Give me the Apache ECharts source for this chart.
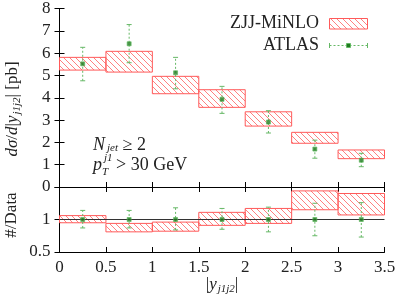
<!DOCTYPE html>
<html><head><meta charset="utf-8">
<script src="https://cdn.jsdelivr.net/npm/echarts@6/dist/echarts.min.js"></script>
<style>html,body{margin:0;padding:0;background:#fff}#c{width:399px;height:297px}</style>
</head><body><div id="c"></div>
<script>
// ---- data ----
const binLo = [0, 0.5, 1, 1.5, 2, 2.5, 3];
const binHi = [0.5, 1, 1.5, 2, 2.5, 3, 3.5];
const minloLo = [5.24, 5.15, 4.18, 3.57, 2.73, 1.96, 1.27];
const minloHi = [5.81, 6.08, 4.96, 4.36, 3.37, 2.45, 1.66];
const atlasX = [0.25, 0.75, 1.25, 1.75, 2.25, 2.75, 3.25];
const atlasY = [5.52, 6.42, 5.12, 3.93, 2.91, 1.70, 1.20];
const atlasErrLo = [4.76, 5.57, 4.40, 3.30, 2.42, 1.29, 0.91];
const atlasErrHi = [6.26, 7.28, 5.81, 4.51, 3.42, 2.10, 1.51];
const ratioLo = [0.95, 0.81, 0.82, 0.91, 0.94, 1.15, 1.07];
const ratioHi = [1.06, 0.94, 0.96, 1.11, 1.17, 1.44, 1.40];
const atlasRatioY = [1, 1, 1, 1, 1, 1, 1];
const atlasRatioLo = [0.87, 0.87, 0.84, 0.85, 0.81, 0.75, 0.73];
const atlasRatioHi = [1.14, 1.14, 1.18, 1.17, 1.19, 1.25, 1.26];

const FONT = '"Liberation Serif", serif';
const RED = '#ff5a5a';
const GREEN_LINE = '#66b866';
const GREEN_MARK = '#1f7a1f';

function hatch() {
  const c = document.createElement('canvas');
  c.width = 6; c.height = 6;
  const g = c.getContext('2d');
  g.strokeStyle = '#ff8080'; g.lineWidth = 1;
  g.beginPath();
  g.moveTo(-1, -1); g.lineTo(7, 7);
  g.moveTo(-1, 5); g.lineTo(1, 7);
  g.moveTo(5, -1); g.lineTo(7, 1);
  g.stroke();
  return c;
}
const pat = { image: hatch(), repeat: 'repeat' };

function boxItem(params, api) {
  const p0 = api.coord([api.value(0), api.value(3)]);
  const p1 = api.coord([api.value(1), api.value(2)]);
  return { type: 'rect', shape: { x: p0[0], y: p0[1], width: p1[0] - p0[0], height: p1[1] - p0[1] },
    style: { fill: pat, stroke: RED, lineWidth: 1 } };
}
function errItem(params, api) {
  const a = api.coord([api.value(0), api.value(1)]);
  const b = api.coord([api.value(0), api.value(2)]);
  const w = 2.5;
  const st = { stroke: GREEN_LINE, lineWidth: 1, lineDash: [2, 2] };
  return { type: 'group', children: [
    { type: 'line', shape: { x1: a[0], y1: a[1], x2: b[0], y2: b[1] }, style: st },
    { type: 'line', shape: { x1: a[0] - w, y1: a[1], x2: a[0] + w, y2: a[1] }, style: { stroke: GREEN_LINE, lineWidth: 1 } },
    { type: 'line', shape: { x1: b[0] - w, y1: b[1], x2: b[0] + w, y2: b[1] }, style: { stroke: GREEN_LINE, lineWidth: 1 } }
  ] };
}

const boxes = binLo.map((v, i) => [v, binHi[i], minloLo[i], minloHi[i]]);
const rboxes = binLo.map((v, i) => [v, binHi[i], ratioLo[i], ratioHi[i]]);
const errs = atlasX.map((x, i) => [x, atlasErrLo[i], atlasErrHi[i]]);
const rerrs = atlasX.map((x, i) => [x, atlasRatioLo[i], atlasRatioHi[i]]);
const pts = atlasX.map((x, i) => [x, atlasY[i]]);
const rpts = atlasX.map((x, i) => [x, atlasRatioY[i]]);

const axLine = { show: true, lineStyle: { color: '#000', width: 1 } };
const tickIn = { show: true, inside: true, length: 5, lineStyle: { color: '#000' } };
const lab = { fontFamily: FONT, fontSize: 17, color: '#222' };

function xAx(grid, pos, showLabel) {
  return { type: 'value', gridIndex: grid, position: pos, min: 0, max: 3.5, interval: 0.5,
    axisLine: axLine, axisTick: tickIn, splitLine: { show: false },
    axisLabel: Object.assign({ show: showLabel, margin: 7, formatter: v => String(v) }, lab) };
}
function yAx(grid, pos, min, max, interval, showLabel, showMax) {
  return { type: 'value', gridIndex: grid, position: pos, min: min, max: max, interval: interval,
    axisLine: axLine, axisTick: tickIn, splitLine: { show: false },
    axisLabel: Object.assign({ show: showLabel, margin: 9, showMaxLabel: showMax }, lab) };
}
const ri = { fontFamily: FONT, fontStyle: 'italic', fontSize: 17, fill: '#222' };
const rs = { fontFamily: FONT, fontStyle: 'italic', fontSize: 11, fill: '#222', padding: [8, 0, 0, 1] };
const rn = { fontFamily: FONT, fontSize: 17, fill: '#222' };

const chart = echarts.init(document.getElementById('c'));
chart.setOption({
  animation: false,
  backgroundColor: '#fff',
  textStyle: { fontFamily: FONT },
  grid: [
    { left: 59.5, top: 8, width: 325, height: 179 },
    { left: 59.5, top: 187, width: 325, height: 65 }
  ],
  xAxis: [ xAx(0, 'bottom', false), xAx(0, 'top', false), xAx(1, 'bottom', true), xAx(1, 'top', false) ],
  yAxis: [ yAx(0, 'left', 0, 8, 1, true, true), yAx(0, 'right', 0, 8, 1, false, true),
           yAx(1, 'left', 0.5, 1.5, 0.5, true, false), yAx(1, 'right', 0.5, 1.5, 0.5, false, false) ],
  series: [
    { type: 'custom', xAxisIndex: 0, yAxisIndex: 0, data: boxes, encode: { x: [0, 1], y: [2, 3] }, renderItem: boxItem, z: 2 },
    { type: 'custom', xAxisIndex: 0, yAxisIndex: 0, data: errs, encode: { x: 0, y: [1, 2] }, renderItem: errItem, z: 3 },
    { type: 'scatter', xAxisIndex: 0, yAxisIndex: 0, data: pts, symbol: 'rect', symbolSize: 4,
      itemStyle: { color: GREEN_MARK, borderColor: '#5cb85c', borderWidth: 0.8 }, z: 4 },
    { type: 'custom', xAxisIndex: 2, yAxisIndex: 2, data: rboxes, encode: { x: [0, 1], y: [2, 3] }, renderItem: boxItem, z: 2 },
    { type: 'line', xAxisIndex: 2, yAxisIndex: 2, data: [[0, 1], [3.5, 1]], symbol: 'none',
      lineStyle: { color: '#333', width: 1 }, z: 3, silent: true },
    { type: 'custom', xAxisIndex: 2, yAxisIndex: 2, data: rerrs, encode: { x: 0, y: [1, 2] }, renderItem: errItem, z: 3 },
    { type: 'scatter', xAxisIndex: 2, yAxisIndex: 2, data: rpts, symbol: 'rect', symbolSize: 4,
      itemStyle: { color: GREEN_MARK, borderColor: '#5cb85c', borderWidth: 0.8 }, z: 4 }
  ],
  graphic: [
    // y title top
    { type: 'text', x: 13, y: 109, rotation: Math.PI / 2,
      style: { text: '{i|dσ}{n|/}{i|d}{n||}{i|y}{s|j1j2}{n|| [pb]}', align: 'center', verticalAlign: 'middle',
        rich: { i: ri, s: rs, n: rn } } },
    // y title bottom
    { type: 'text', x: 12, y: 215, rotation: Math.PI / 2,
      style: { text: '#/Data', fill: '#222', align: 'center', verticalAlign: 'middle', font: '17px "Liberation Serif"' } },
    // x title
    { type: 'text', x: 222, y: 285,
      style: { text: '{n||}{i|y}{s|j1j2}{n||}', align: 'center', verticalAlign: 'middle',
        rich: { i: ri, s: rs, n: rn } } },
    // annotations
    { type: 'text', x: 93, y: 145,
      style: { text: '{i|N}{s|jet}{n| ≥ 2}', verticalAlign: 'middle',
        rich: { i: Object.assign({}, ri, { fontSize: 18 }), s: Object.assign({}, rs, { padding: [7, 0, 0, 2] }), n: Object.assign({}, rn, { fontSize: 18 }) } } },
    { type: 'text', x: 93, y: 165,
      style: { text: 'p', fill: '#222', verticalAlign: 'middle', font: 'italic 18px "Liberation Serif"' } },
    { type: 'text', x: 104, y: 158,
      style: { text: 'j1', fill: '#222', verticalAlign: 'middle', font: 'italic 11px "Liberation Serif"' } },
    { type: 'text', x: 102, y: 172,
      style: { text: 'T', fill: '#222', verticalAlign: 'middle', font: 'italic 11px "Liberation Serif"' } },
    { type: 'text', x: 116, y: 165,
      style: { text: '> 30 GeV', fill: '#222', verticalAlign: 'middle', font: '18px "Liberation Serif"' } },
    // legend
    { type: 'text', x: 319, y: 23,
      style: { text: 'ZJJ-MiNLO', fill: '#222', align: 'right', verticalAlign: 'middle', font: '18px "Liberation Serif"' } },
    { type: 'rect', shape: { x: 329.5, y: 18.5, width: 38, height: 10.5 }, style: { fill: pat, stroke: RED, lineWidth: 1 } },
    { type: 'text', x: 319, y: 45,
      style: { text: 'ATLAS', fill: '#222', align: 'right', verticalAlign: 'middle', font: '18px "Liberation Serif"' } },
    { type: 'line', shape: { x1: 329.5, y1: 45.5, x2: 367.5, y2: 45.5 }, style: { stroke: GREEN_LINE, lineWidth: 1, lineDash: [2, 2] } },
    { type: 'line', shape: { x1: 329.5, y1: 43, x2: 329.5, y2: 48 }, style: { stroke: GREEN_LINE, lineWidth: 1 } },
    { type: 'line', shape: { x1: 367.5, y1: 43, x2: 367.5, y2: 48 }, style: { stroke: GREEN_LINE, lineWidth: 1 } },
    { type: 'rect', shape: { x: 346.5, y: 43.5, width: 4, height: 4 }, style: { fill: GREEN_MARK, stroke: '#5cb85c', lineWidth: 0.8 } }
  ]
});
</script>
</body></html>
